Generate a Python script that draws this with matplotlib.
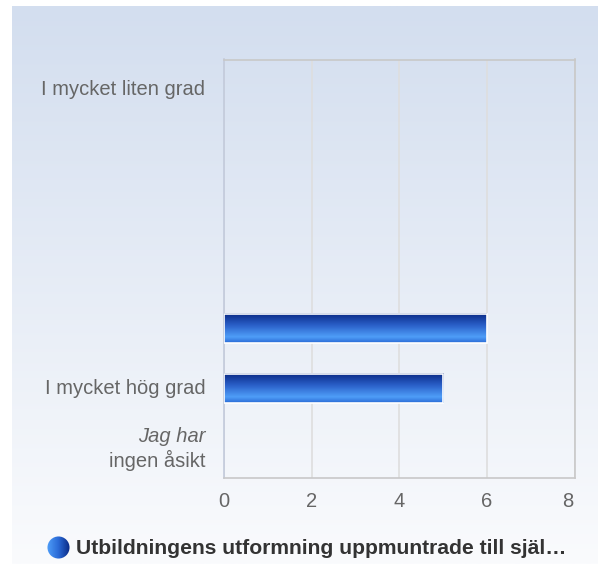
import numpy as np
import matplotlib
matplotlib.use("Agg")
import matplotlib.pyplot as plt
from matplotlib.patches import Circle
from matplotlib.colors import LinearSegmentedColormap
import matplotlib.transforms as mtransforms

plt.rcParams['font.family'] = ['Liberation Sans', 'DejaVu Sans']

categories = ["I mycket liten grad", "", "", "", "", "I mycket hög grad", "Jag har\ningen åsikt"]
values = [0, 0, 0, 0, 6, 5, 0]
xticks = [0, 2, 4, 6, 8]
series_name = "Utbildningens utformning uppmuntrade till själ…"

W, H = 598, 564
fig = plt.figure(figsize=(W / 100, H / 100), dpi=100)
fig.patch.set_facecolor("white")

# background gradient panel
bg = fig.add_axes([12 / W, 0, 1 - 12 / W, 1 - 6 / H], zorder=0)
bg_cmap = LinearSegmentedColormap.from_list("bg", ["#d3deef", "#fafbfd"])
bg.imshow(np.linspace(0, 1, 256).reshape(-1, 1), aspect="auto", cmap=bg_cmap,
          extent=[0, 1, 0, 1], origin="upper")
bg.set_axis_off()

left, right, top, bottom = 224, 574.5, 59.5, 478
ax = fig.add_axes([left / W, 1 - bottom / H, (right - left) / W, (bottom - top) / H], zorder=1)
ax.patch.set_alpha(0)

n = len(categories)
ypos = np.arange(n)
bar_h = 0.49

bar_cmap = LinearSegmentedColormap.from_list(
    "bar", [(0, "#0a2a85"), (0.4, "#2a5fc8"), (0.8, "#4f9ef8"), (1.0, "#2a6ad6")])
grad = np.linspace(0, 1, 64).reshape(-1, 1)
for y, v in zip(ypos, values):
    if v <= 0:
        continue
    ax.imshow(grad, aspect="auto", cmap=bar_cmap, origin="upper",
              extent=[0, v, y + bar_h / 2, y - bar_h / 2], zorder=3)
    ax.barh(y, v, height=bar_h, facecolor="none", edgecolor="white", linewidth=1.2, zorder=4)
ax.set_xlim(0, 8)
ax.set_ylim(n - 0.5, -0.5)

ax.set_xticks(xticks)
ax.set_xticklabels([str(t) for t in xticks])
ax.set_yticks(ypos)
ax.set_yticklabels([])
ax.tick_params(axis="both", length=0, labelsize=14.5, labelcolor="#666666")
ax.tick_params(axis="x", pad=10)
# last tick label sits slightly inside the plot edge
last = ax.get_xticklabels()[-1]
last.set_transform(last.get_transform() + mtransforms.ScaledTranslation(-7 / 100, 0, fig.dpi_scale_trans))
ax.grid(axis="x", color="#dedede", linewidth=1.2, zorder=0)
ax.set_axisbelow(True)
for s in ["top", "right", "bottom"]:
    ax.spines[s].set_color("#c8c8c8")
    ax.spines[s].set_linewidth(1.2)
ax.spines["left"].set_color("#c2cadb")
ax.spines["left"].set_linewidth(1.2)

# category labels
for y, lab in zip(ypos, categories):
    if not lab:
        continue
    if "\n" in lab:
        l1, l2 = lab.split("\n")
        ax.text(-0.43, y - 0.19, l1, ha="right", va="center", fontsize=14.5,
                color="#666666", style="italic")
        ax.text(-0.43, y + 0.21, l2, ha="right", va="center", fontsize=14.5,
                color="#666666")
    else:
        ax.text(-0.43, y + 0.01, lab, ha="right", va="center", fontsize=14.5,
                color="#666666")

# legend
cax = fig.add_axes([(58.5 - 11.5) / W, 1 - (547.5 + 11.5) / H, 23 / W, 23 / H], zorder=2)
cax.set_xlim(0, 1)
cax.set_ylim(0, 1)
leg_cmap = LinearSegmentedColormap.from_list("leg", ["#4f9ef8", "#2a6ad6", "#0a2a85"])
im = cax.imshow(np.linspace(0, 1, 64).reshape(1, -1), aspect="auto", cmap=leg_cmap,
                extent=[0, 1, 0, 1])
circ = Circle((0.5, 0.5), 0.48, transform=cax.transData)
im.set_clip_path(circ)
cax.set_axis_off()
fig.text(76 / W, 1 - 549 / H, series_name, ha="left", va="center", fontsize=15.2,
         fontweight="bold", color="#333333")

fig.savefig("out.png", dpi=100)
